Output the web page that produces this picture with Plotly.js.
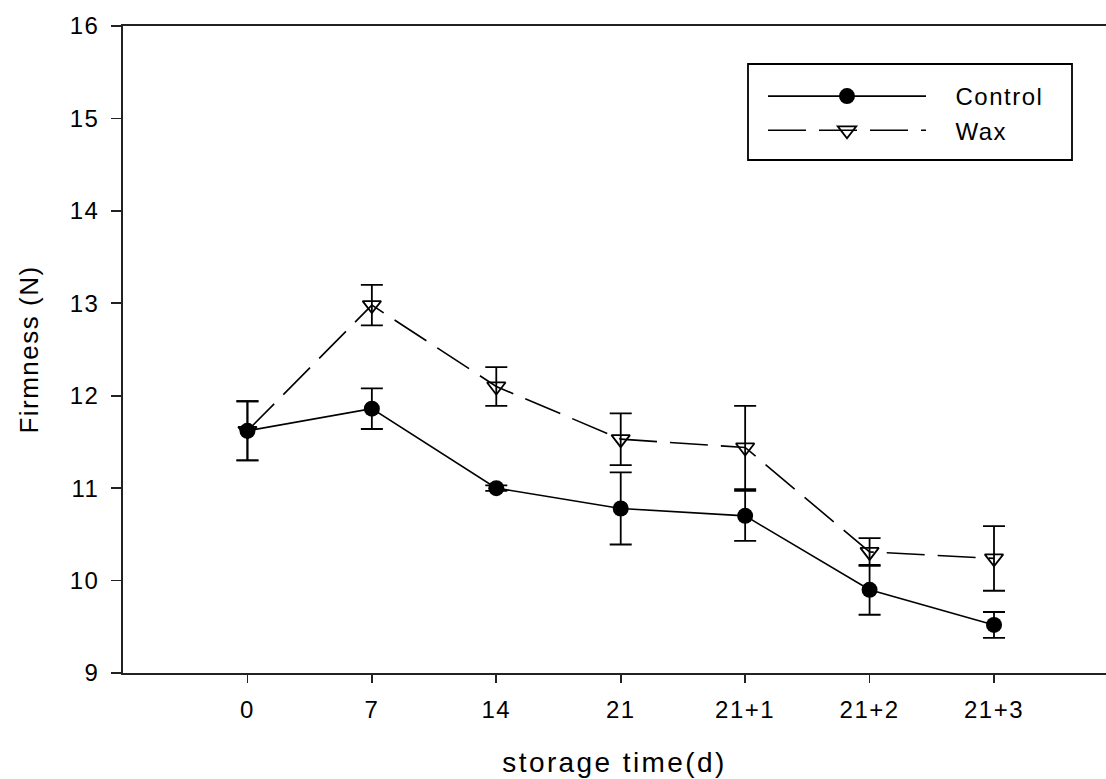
<!DOCTYPE html>
<html>
<head>
<meta charset="utf-8">
<script src="https://cdn.plot.ly/plotly-3.0.1.min.js"></script>
<style>
html,body{margin:0;padding:0;background:#fff;}
#chart{width:1106px;height:779px;}
#chart svg text{letter-spacing:1.5px;}
#chart svg text.xtitle{letter-spacing:2.4px;}
</style>
</head>
<body>
<div id="chart"></div>
<script>
const categories = ["0", "7", "14", "21", "21+1", "21+2", "21+3"];
const controlValues = [11.62, 11.86, 11.00, 10.78, 10.70, 9.90, 9.52];
const controlErrors = [0.32, 0.22, 0.03, 0.39, 0.27, 0.27, 0.14];
const waxValues = [11.62, 12.98, 12.10, 11.53, 11.44, 10.31, 10.24];
const waxErrors = [0.32, 0.22, 0.21, 0.28, 0.45, 0.15, 0.35];
const yTicks = [9, 10, 11, 12, 13, 14, 15, 16];

const xIdx = categories.map((c, i) => i);
const font = "Liberation Sans, Arial, sans-serif";
const pad = "\u00A0\u00A0\u00A0";
const tail = "\u00A0\u00A0\u00A0";

const traces = [
  {
    x: xIdx, y: controlValues, name: pad + "Control" + tail, type: "scatter", mode: "lines+markers",
    line: {color: "#000", width: 1.6},
    marker: {symbol: "circle", size: 16, color: "#000"},
    error_y: {type: "data", array: controlErrors, visible: true, color: "#000", thickness: 1.8, width: 11}
  },
  {
    x: xIdx, y: waxValues, name: pad + "Wax" + tail, type: "scatter", mode: "lines+markers",
    line: {color: "#000", width: 1.6, dash: "38px,13px"},
    marker: {symbol: "triangle-down-open", size: 16, color: "#000", line: {width: 1.8, color: "#000"}},
    error_y: {type: "data", array: waxErrors, visible: true, color: "#000", thickness: 1.8, width: 11}
  }
];

const M = {l: 123, r: 0, t: 26, b: 106};
const plotW = 1106 - M.l - M.r, plotH = 779 - M.t - M.b;
const px2x = p => (p - M.l) / plotW;
const px2y = p => 1 - (p - M.t) / plotH;

const layout = {
  width: 1106, height: 779,
  margin: M,
  paper_bgcolor: "#fff", plot_bgcolor: "#fff",
  font: {family: font, color: "#000", size: 24},
  showlegend: true,
  legend: {
    x: px2x(763), y: px2y(74), xanchor: "left", yanchor: "top",
    xref: "paper", yref: "paper",
    borderwidth: 0, bgcolor: "rgba(0,0,0,0)",
    font: {family: font, size: 24, color: "#000"},
    itemwidth: 158, tracegroupgap: 0
  },
  shapes: [{
    type: "rect", xref: "paper", yref: "paper",
    x0: px2x(748), x1: px2x(1072), y0: px2y(64), y1: px2y(160),
    line: {color: "#000", width: 1.8}, fillcolor: "rgba(0,0,0,0)", layer: "below"
  }],
  xaxis: {
    range: [-1, 6.9], tickmode: "array", tickvals: xIdx, ticktext: categories,
    showline: true, linecolor: "#222", linewidth: 1.8, mirror: true,
    ticks: "outside", ticklen: 8, tickwidth: 1.8, tickcolor: "#222",
    ticklabelstandoff: 6,
    showgrid: false, zeroline: false,
    tickfont: {size: 24, family: font},
    title: {text: "\u00A0storage time(d)", font: {size: 28, family: font}, standoff: 31}
  },
  yaxis: {
    range: [9, 16], tickmode: "array", tickvals: yTicks,
    showline: true, linecolor: "#222", linewidth: 1.8,
    ticks: "outside", ticklen: 10, tickwidth: 1.8, tickcolor: "#222",
    ticklabelstandoff: 7,
    showgrid: false, zeroline: false,
    tickfont: {size: 24, family: font},
    title: {text: "Firmness (N)", font: {size: 26, family: font}, standoff: 26}
  }
};

Plotly.newPlot("chart", traces, layout, {displayModeBar: false, staticPlot: true});
</script>
</body>
</html>
